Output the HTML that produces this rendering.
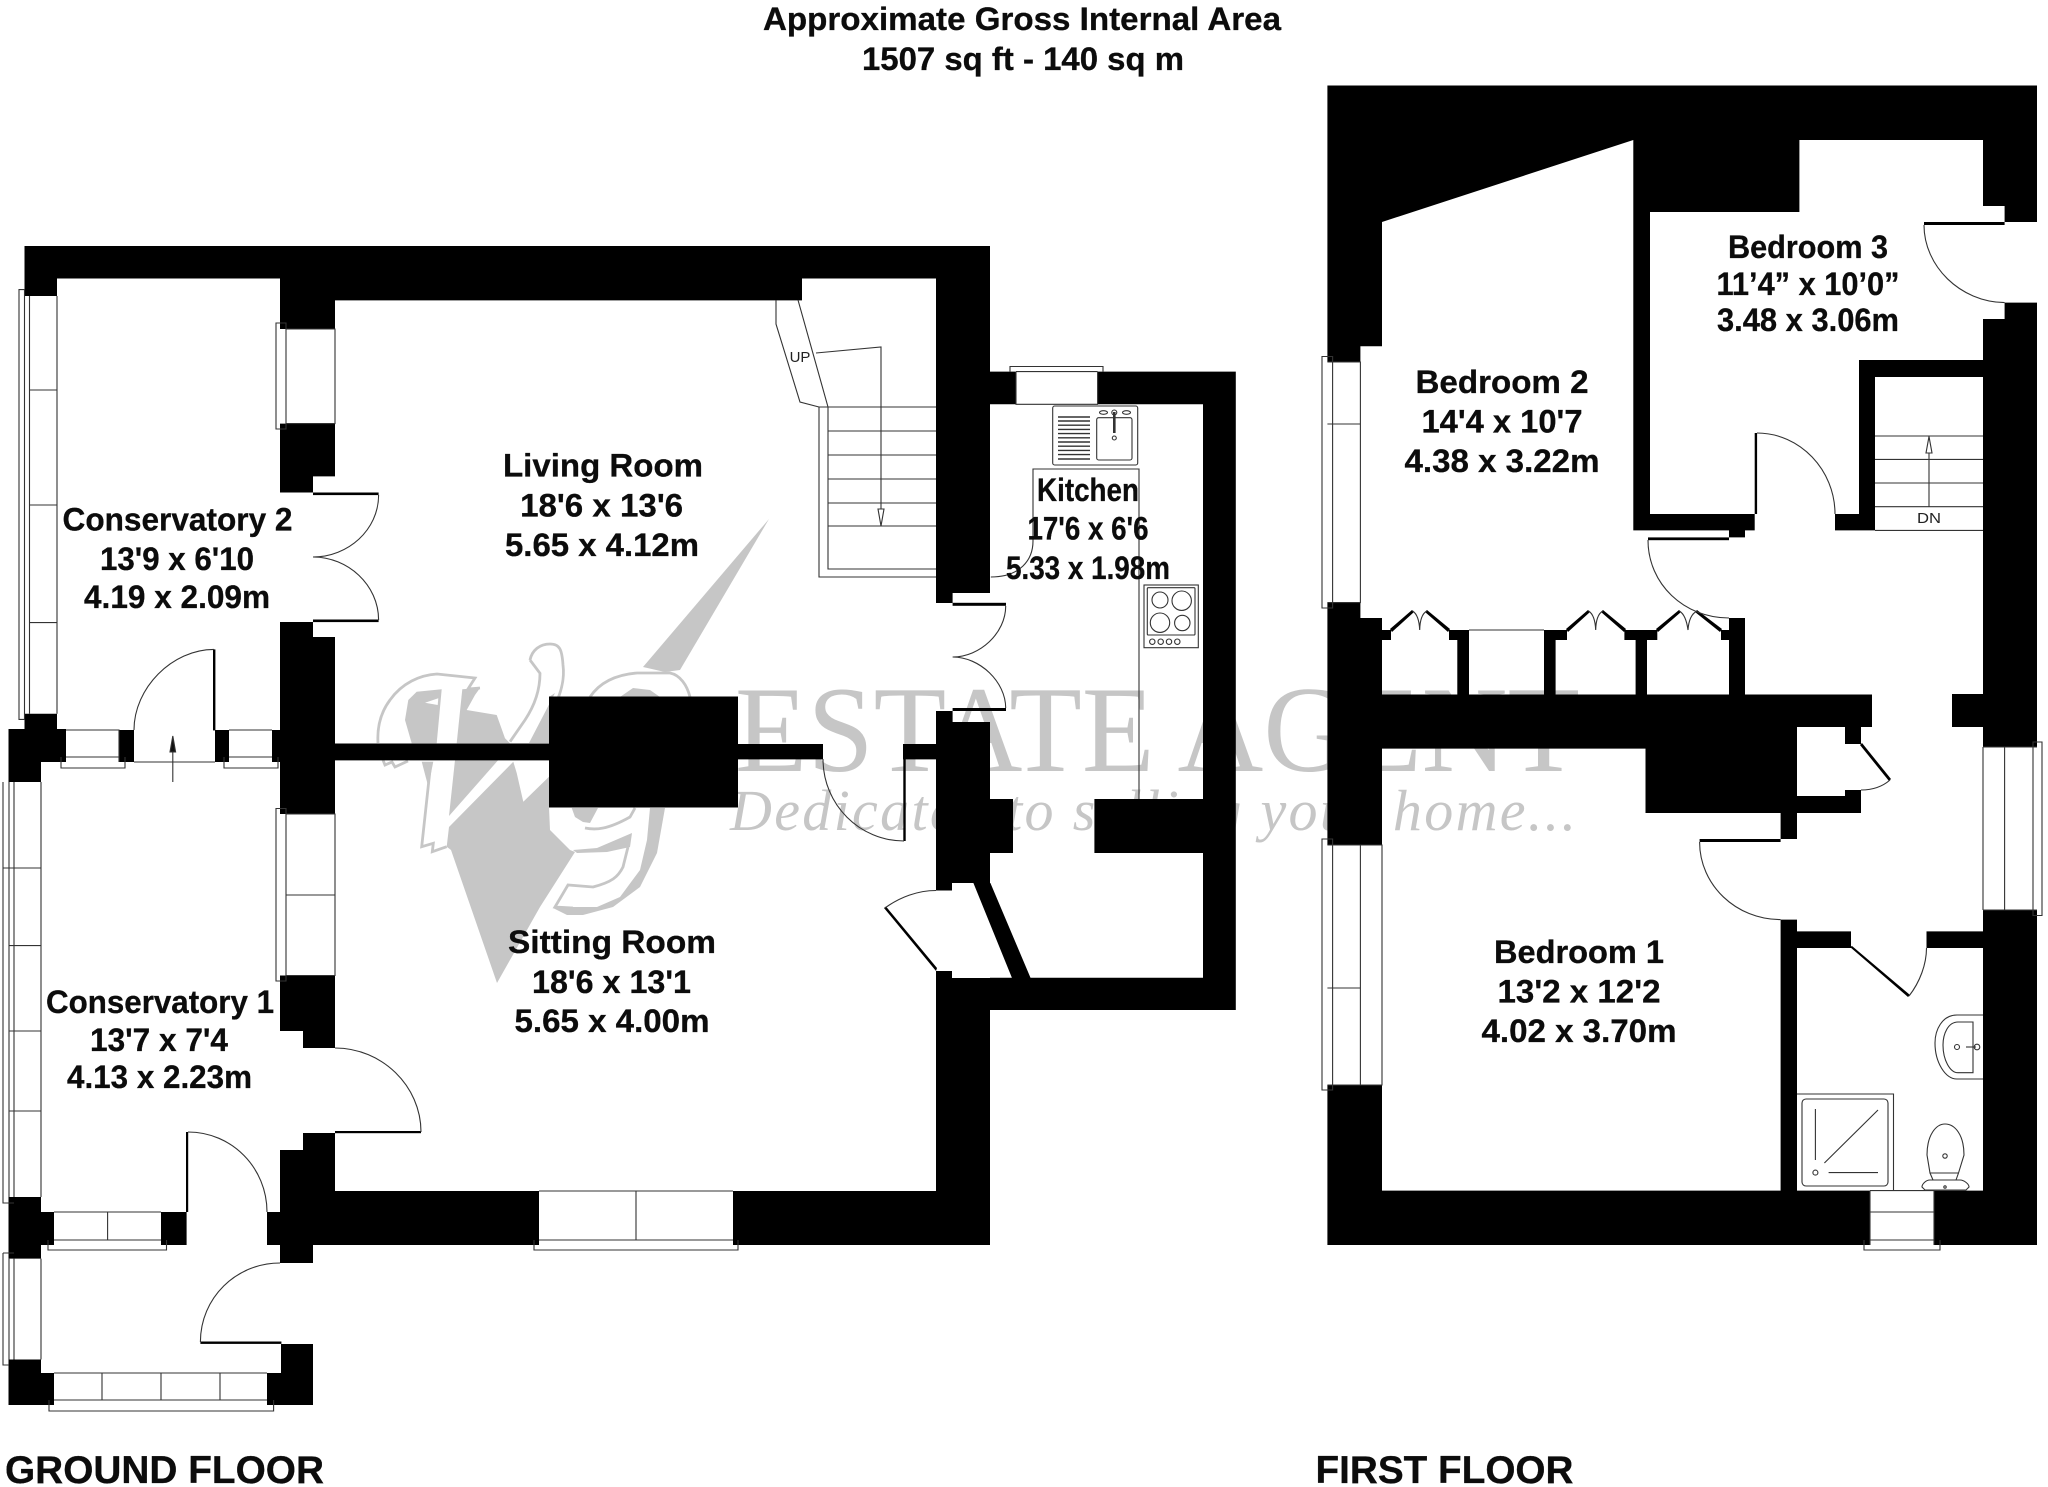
<!DOCTYPE html>
<html><head><meta charset="utf-8"><title>Floor plan</title>
<style>
html,body{margin:0;padding:0;background:#fff}
svg{display:block}
.t{font-family:"Liberation Sans",Arial,sans-serif;font-weight:bold;fill:#0c0c0c;stroke:#0c0c0c;stroke-width:.3;font-size:32px;text-anchor:middle}
.f{font-size:39px}
.s{font-family:"Liberation Sans",Arial,sans-serif;font-size:15px;fill:#222;text-anchor:middle}
.w{fill:#000;stroke:none}
.l{fill:none;stroke:#333;stroke-width:1.1}
.wm{font-family:"Liberation Serif",serif;fill:#c6c6c6}
</style></head><body>
<svg width="2048" height="1487" viewBox="0 0 2048 1487" xmlns="http://www.w3.org/2000/svg">
<rect width="2048" height="1487" fill="#fff"/>

<!-- watermark -->
<g>
<text class="wm" x="735" y="771" font-size="123" textLength="845" lengthAdjust="spacingAndGlyphs">ESTATE AGENT</text>
<text class="wm" x="730" y="830" font-size="58" font-style="italic" textLength="846" lengthAdjust="spacing">Dedicated to selling your home...</text>
<g fill="#c6c6c6" stroke="none">
<polygon points="769,519 680,670 665,672 643,667"/>
<polygon points="405,720 408.300,700 416.700,691.700 441.700,689.300 436.700,743.300 411.700,743.300"/>
<polygon points="425,702.700 438.300,698.300 437.700,705" fill="#fff"/>
<polygon points="421.700,761.700 433.300,761.700 428.300,786.700"/>
<polygon points="462.300,689.300 480,688 475,695 466.700,710 496.700,715 505,738.300 510,743.300 456.700,743.300"/>
<polygon points="455,760 498.300,760 449,816"/>
<polygon points="555,693 549,697 549,743 529,743"/>
<polygon points="449,827 513.300,761.700 516.700,773 523.300,801.700 549,776.700 549,807 550,830 570,850 575,852 540,907 497,983 451,850 446.700,846.700"/>
<polygon points="571.700,808 598,808 590,823 583,822 575,817"/>
<polygon points="573,850 597,848 632,833 630,847 607,852 577,853"/>
<polygon points="650,808 665,808 657,853 640,887 613,907 583,915 567,915 553,908 573,907 597,907 620,897 640,870 647,840"/>
<polygon points="620,697 633,688 650,690 660,697"/>
<g fill="none" stroke="#c6c6c6" stroke-width="2.800">
<path d="M378 743C377 727 381 712 390 700C402 683 420 675 437 674L475 678L468 689L480 688"/>
<path d="M383 760L385 765L392 762L395 767L408 761"/>
<path d="M430 770L421.700 846.700L433.300 843.300L432.300 851.700L446.700 846.700"/>
<path d="M530 660C532 650 540 644 550 644C560 644 562 650 563 665C565 680 560 695 555 705"/>
<path d="M530 660L540 673.300C540 690 535 705 525 720L510 741.700"/>
<path d="M590 697C598 685 612 675 637 673L670 673C680 675 687 685 690 697"/>
<path d="M585 828C595 830 607 830 630 817L635 808"/>
<path d="M628 847L623 867C618 877 612 882 593 887L568 885L555 907L573 908"/>
</g>
</g>
</g>

<!-- GROUND FLOOR WALLS -->
<path class="w" d="
M24.500 246H990V278.500H24.500Z
M24.500 246H57V296H24.500Z
M280 246H802V300.400H280Z
M280 246H335V329H280Z
M936 246H990V593H952.600V603H936Z
M280 423.600H335V476.400H313V492.500H280Z
M280 622H313V637H335V814H280Z
M280 975.500H335V1048H303V1031H280Z
M303 1133H335V1245H313V1263H280V1245H267V1212H280V1150H303Z
M335 1191H539V1245H335Z
M733 1191H990V1245H733Z
M936 971H952V978H990V1245H936Z
M990 977.800H1235.800V1010H990Z
M1203 371.600H1235.800V1010H1203Z
M1097.600 371.600H1235.800V404.300H1097.600Z
M990 371.600H1016V404.300H990Z
M1094.400 799H1203V853H1094.400Z
M990 799H1013V853H990Z
M936 711H952.600V722H990V883H952V890.500H936Z
M973.400 883H990.400L1030.600 978H1012Z
M335 743.500H549V760.400H335Z
M549 696.500H738V807.500H549Z
M738 744H823V759.400H738Z
M903 744H936V759.400H903Z
M281 1344H313V1405H267V1373H281Z
M8.500 1359.500H41V1373H54V1405H8.500Z
M8.500 1197H41V1212H54V1245H41V1258.600H8.500Z
M161 1212H186.600V1245H161Z
M24.500 713.700H57V729H66V762H41V782H8.500V729H24.500Z
M119 730H134V762H119Z
M215 730H229V762H215Z
M272 730H280V762H272Z
"/>
<!-- ground door leaves -->
<g class="w">
<rect x="313" y="492.500" width="65.600" height="2.600"/>
<rect x="313" y="619.500" width="65.600" height="2.600"/>
<rect x="952.600" y="602.800" width="53.400" height="3"/>
<rect x="952.600" y="708" width="53.400" height="3"/>
<rect x="213" y="649.400" width="2.400" height="81"/>
<rect x="335" y="1131" width="86" height="2.200"/>
<rect x="186" y="1132" width="2.200" height="80"/>
<rect x="200.400" y="1341.500" width="81" height="2.400"/>
<rect x="903.300" y="759" width="2.400" height="82"/>
<polygon points="884,908 886,906.500 937,968 936,971"/>
</g>
<g class="l">
<path d="M378.600 495C378.600 530 348 557 313 557C348 557 378.600 585 378.600 620"/>
<path d="M1005.700 606C1005.700 633 980 657 952.600 657C980 657 1005.700 682 1005.700 708"/>
<path d="M214 649.400C172 649.400 134 688 134 730"/>
<path d="M335 1048C382 1048 421 1086 421 1132"/>
<path d="M188 1132C232 1132 267 1168 267 1212"/>
<path d="M280 1263C236 1263 200.400 1298 200.400 1342"/>
<path d="M823 759C823 805 860 841 904 841"/>
<path d="M885 908C900 897 918 890.500 936 890.500"/>
<path d="M134 762H215M172.800 782V752"/>
<polygon points="172.800,736 170,752 175.600,752" fill="#111"/>
<path d="M286 329H335V423.600H286ZM276 323H286V429H276Z"/>
<path d="M286 814H335V975.500H286ZM276 808.500H286V981H276ZM286 895H335"/>
<path d="M29.500 296V713.700M57 296V713.700M19 289.600H24.500V719.400H19ZM24.500 296V713M29.500 390H57M29.500 505H57M29.500 622.600H57"/>
<path d="M9 782V1197M14 782V1197M41 782V1197M3 868H9M3 782V1203H14M9 868H41M9 945.600H41M9 1031H41M9 1111H41"/>
<path d="M9 1258.600V1359.500M14 1258.600V1359.500M41 1258.600V1359.500M3 1253H14M3 1253V1365H9"/>
<path d="M66 730H119V762M66 757H119M61 757V768H125V757"/>
<path d="M229 730H272M229 757H272M224 757V768H278V757"/>
<path d="M54 1212H161M54 1240H161M107.600 1212V1240M48 1240V1250H166.500V1240"/>
<path d="M54 1373H267M54 1400H267M102 1373V1400M161 1373V1400M220 1373V1400M49 1400V1411H273.600V1400"/>
<path d="M539 1191H733M539 1240H733M636 1191V1240M534 1240V1250H738V1240"/>
<path d="M1016 371.600V404.300H1097.600V371.600M1010 371.600V366.500H1103V371.600M1016 371.600H1097.600"/>
<path d="M819 407V577H936M828 407V569H936M819 407H936M828 431H936M828 455H936M828 479H936M828 503H936M828 526H936"/>
<path d="M776 300V324L800 402L819 407M798 300L828 407"/>
<path d="M816 353L881 347V509"/>
<polygon points="878,509 884,509 881,526" fill="#fff"/>
<rect x="1052.700" y="406" width="85" height="59" rx="2"/>
<path d="M1033 541V469H1139V799M1033 541C1033 560 1020 577 990.800 577"/>
<path d="M1058 417H1090M1058 421H1090M1058 425.200H1090M1058 429.400H1090M1058 433.600H1090M1058 437.800H1090M1058 442H1090M1058 446.200H1090M1058 450.400H1090M1058 454.600H1090M1058 459H1090" stroke-width="1.400"/>
<rect x="1096.700" y="417.700" width="35.300" height="42.300" rx="2"/>
<path d="M1114.300 412V433" stroke-width="2.600"/>
<circle cx="1114.300" cy="438" r="2"/>
<circle cx="1114.300" cy="412.500" r="2.500"/>
<ellipse cx="1103.500" cy="412.500" rx="4" ry="1.800"/>
<ellipse cx="1126.500" cy="412.500" rx="4" ry="1.800"/>
<rect x="1144" y="585" width="54.300" height="62.700"/>
<rect x="1147.300" y="587.700" width="47.700" height="47.300" rx="1"/>
<circle cx="1160" cy="600" r="8"/>
<circle cx="1181.700" cy="600.700" r="9.700"/>
<circle cx="1160" cy="622.700" r="9.700"/>
<circle cx="1182.300" cy="623" r="7.700"/>
<circle cx="1152.300" cy="641.700" r="2.700"/>
<circle cx="1160.700" cy="641.700" r="2.700"/>
<circle cx="1169" cy="641.700" r="2.700"/>
<circle cx="1177.300" cy="641.700" r="2.700"/>
</g>
<text class="s" x="800" y="362">UP</text>

<!-- FIRST FLOOR WALLS -->
<path class="w" d="
M1327.400 85.500H2037V222H2004.600V206H1983V140H1799.400V212H1650V514H1754.700V530.400H1745V537.400H1729V530.400H1633.300V140L1382 222V346.300H1360.400V362H1327.400Z
M2004.600 302.600H2037V747H1983V319H2004.600Z
M1983 910H2037V1245H1983Z
M1859 360H1983V377H1875V530.400H1835V514H1859Z
M1327.400 602.600H1360.400V618H1382V630H1391V640H1382V694.500H1457.300V640H1449V630H1469V694.500H1544V630H1567V640H1555.600V694.500H1635.600V640H1624.400V630H1657.300V640H1647V694.500H1729V640H1721V630H1729V618H1745V694.500H1872V727H1861V744H1845V727H1797V796H1845V790H1861V813H1797V839H1780.600V813H1645.500V748.600H1382V845H1327.400Z
M1327.400 1085H1382V1190.600H1870V1245H1327.400Z
M1934 1190.600H2037V1245H1934Z
M1780.600 919.600H1797V1190.600H1780.600Z
M1797 931.400H1851V948H1797Z
M1926.500 931.400H1983V948H1926.500Z
M1952 694H1983V727H1952Z
"/>
<g class="w">
<rect x="1924" y="222" width="80.600" height="3"/>
<rect x="1754.700" y="433" width="2.400" height="81"/>
<rect x="1648" y="537.400" width="81" height="2.800"/>
<rect x="1699.600" y="839" width="81" height="3"/>
<polygon points="1860,745 1862,743 1891,779 1889,781"/>
<polygon points="1850,947 1852,946 1910,995 1908,997"/>
<polygon points="1390,629 1412,610 1414,612 1392,632"/>
<polygon points="1425,612 1427,610 1450,629 1448,632"/>
<polygon points="1566,629 1588,610 1590,612 1568,632"/>
<polygon points="1601,612 1603,610 1626,629 1624,632"/>
<polygon points="1656,629 1679,610 1681,612 1658,632"/>
<polygon points="1695,612 1697,610 1722,629 1720,632"/>
</g>
<g class="l">
<path d="M1924 225C1924 266 1960 302 2004.600 302.600"/>
<path d="M1757 433C1800 433 1835 470 1835 514"/>
<path d="M1648 540C1648 584 1684 618 1729 618"/>
<path d="M1699.600 842C1699.600 885 1736 919.600 1780.600 919.600"/>
<path d="M1909 996C1920 982 1926.500 964 1926.500 948"/>
<path d="M1890 780C1882 787 1872 790 1861 790"/>
<path d="M1412.600 611Q1419 615 1419.700 630Q1420 615 1426.700 611"/>
<path d="M1588.600 611Q1595 615 1595.700 630Q1596 615 1602.700 611"/>
<path d="M1679.400 611Q1686 615 1688 630Q1689 615 1697 611"/>
<path d="M1469 630H1544"/>
<path d="M1875 436H1983M1875 459.400H1983M1875 483H1983M1875 506.700H1983M1875 530.400H1983M1929 506.700V453"/>
<polygon points="1926,453 1932,453 1929,436.500" fill="#fff"/>
<path d="M1327.400 362H1360.400V602.600H1327.400M1322 356.500H1332.600V608H1322Z"/>
<path d="M1327.400 424H1360.400"/>
<path d="M1327.400 845H1382V1085H1327.400M1322 839H1332.600V1090H1322ZM1360.400 845V1085M1327.400 988H1360.400"/>
<path d="M1983 747H2037M1983 910H2037M1983 747V910M2004.600 747V910M2033 742H2042V915.500H2033Z"/>
<path d="M1870 1190.600H1934V1245M1870 1190.600V1245M1870 1212H1934M1870 1240H1934M1864 1240V1250H1940V1240"/>
<path d="M1797 1094H1893.500V1190.600"/>
<rect x="1802" y="1099" width="86" height="87" rx="4"/>
<path d="M1815.400 1109V1160M1824.400 1163L1878 1110M1828.600 1172.600H1878"/>
<circle cx="1815.400" cy="1172.600" r="2.500"/>
<path d="M1983 1015H1957C1942 1015 1935 1030 1935 1043C1935 1062 1945 1079 1957 1079H1983"/>
<path d="M1973 1022H1958C1948 1022 1943 1034 1943 1045C1943 1060 1950 1072.700 1958 1072.700H1973Z"/>
<circle cx="1957" cy="1047" r="2.500"/>
<path d="M1966 1047H1976"/>
<circle cx="1977" cy="1047" r="2.800"/>
<path d="M1930 1173L1927 1155C1927 1135 1936 1124 1945 1124C1955 1124 1964 1135 1964 1155L1958.500 1173Z"/>
<path d="M1930 1173L1933 1180M1958.500 1173L1956 1180"/>
<path d="M1930 1180H1960C1964 1180 1969 1184 1969 1187L1966 1190H1925L1922 1187C1922 1184 1926 1180 1930 1180Z"/>
<circle cx="1945" cy="1156" r="2.200"/>
<circle cx="1945" cy="1187" r="1.200"/>
</g>
<text class="s" x="1929" y="523" textLength="24" lengthAdjust="spacingAndGlyphs">DN</text>

<!-- LABELS -->
<g transform="translate(-1,0)">
<text class="t" x="1023" y="30" font-size="31" textLength="518" lengthAdjust="spacingAndGlyphs">Approximate Gross Internal Area</text>
<text class="t" x="1024" y="70" textLength="322" lengthAdjust="spacingAndGlyphs">1507 sq ft - 140 sq m</text>

<text class="t" x="604" y="476.500" textLength="200" lengthAdjust="spacingAndGlyphs">Living Room</text>
<text class="t" x="602.600" y="516.600" textLength="163" lengthAdjust="spacingAndGlyphs">18'6 x 13'6</text>
<text class="t" x="603" y="556" textLength="194" lengthAdjust="spacingAndGlyphs">5.65 x 4.12m</text>

<text class="t" x="178.500" y="530.700" textLength="230" lengthAdjust="spacingAndGlyphs">Conservatory 2</text>
<text class="t" x="178" y="570" textLength="154" lengthAdjust="spacingAndGlyphs">13'9 x 6'10</text>
<text class="t" x="178" y="608" textLength="186" lengthAdjust="spacingAndGlyphs">4.19 x 2.09m</text>

<text class="t" x="161" y="1013" textLength="228" lengthAdjust="spacingAndGlyphs">Conservatory 1</text>
<text class="t" x="160" y="1051" textLength="138" lengthAdjust="spacingAndGlyphs">13'7 x 7'4</text>
<text class="t" x="160.500" y="1088" textLength="185" lengthAdjust="spacingAndGlyphs">4.13 x 2.23m</text>

<text class="t" x="613" y="953" textLength="208" lengthAdjust="spacingAndGlyphs">Sitting Room</text>
<text class="t" x="612.500" y="993" textLength="159" lengthAdjust="spacingAndGlyphs">18'6 x 13'1</text>
<text class="t" x="613" y="1032" textLength="195" lengthAdjust="spacingAndGlyphs">5.65 x 4.00m</text>

<text class="t" x="1089" y="501" textLength="102" lengthAdjust="spacingAndGlyphs">Kitchen</text>
<text class="t" x="1089" y="539.500" textLength="121" lengthAdjust="spacingAndGlyphs">17'6 x 6'6</text>
<text class="t" x="1089" y="579" textLength="164" lengthAdjust="spacingAndGlyphs">5.33 x 1.98m</text>

<text class="t" x="1809" y="257.800" textLength="160" lengthAdjust="spacingAndGlyphs">Bedroom 3</text>
<text class="t" x="1809" y="295" textLength="183" lengthAdjust="spacingAndGlyphs">11’4” x 10’0”</text>
<text class="t" x="1809" y="331" textLength="182" lengthAdjust="spacingAndGlyphs">3.48 x 3.06m</text>

<text class="t" x="1503" y="393" textLength="173" lengthAdjust="spacingAndGlyphs">Bedroom 2</text>
<text class="t" x="1503" y="432.500" textLength="161" lengthAdjust="spacingAndGlyphs">14'4 x 10'7</text>
<text class="t" x="1503" y="472" textLength="195" lengthAdjust="spacingAndGlyphs">4.38 x 3.22m</text>

<text class="t" x="1580" y="963" textLength="170" lengthAdjust="spacingAndGlyphs">Bedroom 1</text>
<text class="t" x="1580" y="1002.400" textLength="163" lengthAdjust="spacingAndGlyphs">13'2 x 12'2</text>
<text class="t" x="1580" y="1042" textLength="195" lengthAdjust="spacingAndGlyphs">4.02 x 3.70m</text>

<text class="t f" x="165.500" y="1483" textLength="319" lengthAdjust="spacingAndGlyphs">GROUND FLOOR</text>
<text class="t f" x="1445.500" y="1483" textLength="258" lengthAdjust="spacingAndGlyphs">FIRST FLOOR</text>
</g>
</svg>
</body></html>
